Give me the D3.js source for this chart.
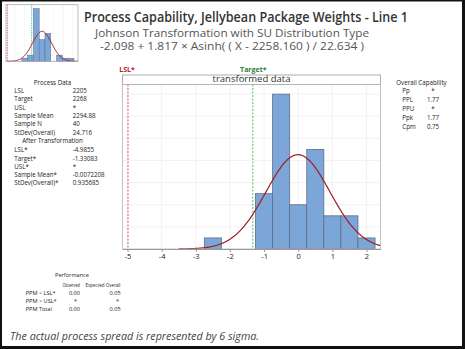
<!DOCTYPE html>
<html><head><meta charset="utf-8">
<script src="https://cdn.jsdelivr.net/npm/d3@7"></script>
<style>
html,body{margin:0;padding:0;background:#fff;}
svg{display:block;font-family:"Open Sans","Noto Sans",sans-serif;}
</style></head>
<body><div id="chart"></div>
<script>
// ---------- data ----------
const transBinStarts = [-2.75, -1.25, -0.75, -0.25, 0.25, 0.75, 1.25, 1.75];
const transCounts    = [1, 5, 14, 4, 9, 3, 3, 1];
const transBinWidth  = 0.5;
const xTicks = [-5, -4, -3, -2, -1, 0, 1, 2];
const yGrid = [0.1, 0.2, 0.3, 0.4, 0.5, 0.6, 0.7];

const origBinStarts = [2242.5, 2257.5, 2272.5, 2287.5, 2302.5, 2317.5, 2332.5, 2347.5, 2362.5];
const origCounts    = [1, 2, 17, 7, 9, 0, 2, 1, 1];
const origBinWidth  = 15;
const origGrid = [2225, 2250, 2275, 2300, 2325, 2350, 2375];

const N = 40;
const LSL = 2205, TARGET = 2268, MEAN = 2294.88, SD = 24.716;
const LSLt = -4.9855, TARGETt = -1.33083, MEANt = -0.0072208, SDt = 0.935685;

const titleText = "Process Capability, Jellybean Package Weights - Line 1";
const subtitle1 = "Johnson Transformation with SU Distribution Type";
const subtitle2 = "-2.098 + 1.817 \u00d7 Asinh( ( X - 2258.160 ) / 22.634 )";
const footerText = "The actual process spread is represented by 6 sigma.";

const processLabels = ["LSL", "Target", "USL", "Sample Mean", "Sample N", "StDev(Overall)"];
const processValues = ["2205", "2268", "*", "2294.88", "40", "24.716"];
const afterLabels = ["LSL*", "Target*", "USL*", "Sample Mean*", "StDev(Overall)*"];
const afterValues = ["-4.9855", "-1.33083", "*", "-0.0072208", "0.935685"];
const capLabels = ["Pp", "PPL", "PPU", "Ppk", "Cpm"];
const capValues = ["*", "1.77", "*", "1.77", "0.75"];
const perfRows = ["PPM < LSL*", "PPM > USL*", "PPM Total"];
const perfObserved = ["0.00", "*", "0.00"];
const perfExpected = ["0.05", "*", "0.05"];

// ---------- setup ----------
const W = 465, H = 349;
const svg = d3.select("#chart").append("svg").attr("width", W).attr("height", H);
svg.append("rect").attr("width", W).attr("height", H).attr("fill", "#fff");

const barFill = "#7DA6D8", barStroke = "#5B6E8C", curveColor = "#A01C22";
const lslColor = "#E0474C", tgtColor = "#3DB85A";
const normPdf = (x, m, s) => Math.exp(-0.5 * ((x - m) / s) ** 2) / (s * Math.sqrt(2 * Math.PI));

// ---------- main plot ----------
const P = {left: 122.5, right: 380.5, top: 84.5, bottom: 249, headTop: 75};
const x = d3.scaleLinear().domain([-5.147, 2.41]).range([P.left, P.right]);
const y = d3.scaleLinear().domain([0, 0.7436]).range([P.bottom, P.top]);

const g = svg.append("g");
// header strip
g.append("rect").attr("x", P.left).attr("y", P.headTop).attr("width", P.right - P.left)
  .attr("height", P.top - P.headTop).attr("fill", "#fff").attr("stroke", "#9a9a9a").attr("stroke-width", 0.8);
g.append("text").attr("x", (P.left + P.right) / 2).attr("y", P.top - 2.2).attr("text-anchor", "middle")
  .attr("font-size", 9.5).attr("fill", "#333").text("transformed data");

// gridlines
g.selectAll(".vg").data(xTicks).join("line").attr("x1", d => x(d)).attr("x2", d => x(d))
  .attr("y1", P.top).attr("y2", P.bottom).attr("stroke", "#efefef").attr("stroke-width", 0.8);
g.selectAll(".hg").data(yGrid).join("line").attr("x1", P.left).attr("x2", P.right)
  .attr("y1", d => y(d)).attr("y2", d => y(d)).attr("stroke", "#efefef").attr("stroke-width", 0.8);

// bars
const tBins = transBinStarts.map((s, i) => ({x0: s, x1: s + transBinWidth, d: transCounts[i] / (N * transBinWidth)}));
g.selectAll(".bar").data(tBins).join("rect")
  .attr("x", d => x(d.x0)).attr("width", d => x(d.x1) - x(d.x0))
  .attr("y", d => y(d.d)).attr("height", d => y(0) - y(d.d))
  .attr("fill", barFill).attr("stroke", barStroke).attr("stroke-width", 0.8);

// spec lines
g.append("line").attr("x1", x(LSLt)).attr("x2", x(LSLt)).attr("y1", P.top).attr("y2", P.bottom)
  .attr("stroke", lslColor).attr("stroke-width", 0.9).attr("stroke-dasharray", "2,1.5");
g.append("line").attr("x1", x(TARGETt)).attr("x2", x(TARGETt)).attr("y1", P.top).attr("y2", P.bottom)
  .attr("stroke", tgtColor).attr("stroke-width", 0.9).attr("stroke-dasharray", "2,1.5");

// normal curve
const cx = d3.range(-3.5, 2.41 + 1e-9, 0.02);
g.append("path").datum(cx).attr("fill", "none").attr("stroke", curveColor).attr("stroke-width", 1.2)
  .attr("d", d3.line().x(d => x(d)).y(d => y(normPdf(d, MEANt, SDt))));

// frame
g.append("rect").attr("x", P.left).attr("y", P.top).attr("width", P.right - P.left).attr("height", P.bottom - P.top)
  .attr("fill", "none").attr("stroke", "#b5b5b5").attr("stroke-width", 0.8);

// x axis
const xAxis = g.append("g").attr("transform", `translate(0,${P.bottom})`)
  .call(d3.axisBottom(x).tickValues(xTicks).tickSize(3).tickSizeOuter(0).tickFormat(d3.format("d")));
xAxis.select(".domain").attr("stroke", "#999");
xAxis.selectAll(".tick line").attr("stroke", "#999");
xAxis.selectAll("text").attr("font-size", 7.5).attr("fill", "#222").attr("dy", "0.85em").attr("y", 3.5)
  .attr("font-family", "'Open Sans',sans-serif").text(d => d < 0 ? "-" + Math.abs(d) : d);

// spec labels above
g.append("text").attr("x", x(LSLt) - 1).attr("y", 71.5).attr("text-anchor", "middle").attr("font-size", 7)
  .attr("font-weight", "bold").attr("fill", "#B0282E").text("LSL*");
g.append("text").attr("x", x(TARGETt) + 0.5).attr("y", 71.5).attr("text-anchor", "middle").attr("font-size", 7)
  .attr("font-weight", "bold").attr("fill", "#2F7D3A").text("Target*");

// ---------- thumbnail ----------
const T = {left: 6, right: 78, top: 4.7, bottom: 61.3};
const tx = d3.scaleLinear().domain([2201.5, 2388]).range([T.left, T.right]);
const ty = d3.scaleLinear().domain([0, 0.03043]).range([T.bottom, T.top]);
const th = svg.append("g");
th.selectAll(".tvg").data(origGrid).join("line").attr("x1", d => tx(d)).attr("x2", d => tx(d))
  .attr("y1", T.top).attr("y2", T.bottom).attr("stroke", "#f0f0f0").attr("stroke-width", 0.6);
const oBins = origBinStarts.map((s, i) => ({x0: s, x1: s + origBinWidth, d: origCounts[i] / (N * origBinWidth)}));
th.selectAll(".tbar").data(oBins.filter(b => b.d > 0)).join("rect")
  .attr("x", d => tx(d.x0)).attr("width", d => tx(d.x1) - tx(d.x0))
  .attr("y", d => ty(d.d)).attr("height", d => ty(0) - ty(d.d))
  .attr("fill", barFill).attr("stroke", barStroke).attr("stroke-width", 0.5);
th.append("line").attr("x1", tx(LSL)).attr("x2", tx(LSL)).attr("y1", T.top).attr("y2", T.bottom)
  .attr("stroke", lslColor).attr("stroke-width", 0.8).attr("stroke-dasharray", "1.5,1");
th.append("line").attr("x1", tx(TARGET)).attr("x2", tx(TARGET)).attr("y1", T.top).attr("y2", T.bottom)
  .attr("stroke", tgtColor).attr("stroke-width", 0.8).attr("stroke-dasharray", "1.5,1");
const ox = d3.range(2205, 2388 + 1e-9, 1);
th.append("path").datum(ox).attr("fill", "none").attr("stroke", curveColor).attr("stroke-width", 1)
  .attr("d", d3.line().x(d => tx(d)).y(d => ty(normPdf(d, MEAN, SD))));
th.append("rect").attr("x", T.left).attr("y", T.top).attr("width", T.right - T.left).attr("height", T.bottom - T.top)
  .attr("fill", "none").attr("stroke", "#aaa").attr("stroke-width", 0.8);

// ---------- titles ----------
svg.append("text").attr("x", 246).attr("y", 21.8).attr("text-anchor", "middle").attr("font-size", 13.5)
  .attr("font-weight", 600).attr("fill", "#333").attr("textLength", 324).attr("lengthAdjust", "spacingAndGlyphs").text(titleText);
svg.append("text").attr("x", 232).attr("y", 36.9).attr("text-anchor", "middle").attr("font-size", 11)
  .attr("fill", "#555").attr("textLength", 274).attr("lengthAdjust", "spacingAndGlyphs").text(subtitle1);
svg.append("text").attr("x", 232).attr("y", 50.4).attr("text-anchor", "middle").attr("font-size", 11)
  .attr("fill", "#555").attr("textLength", 264).attr("lengthAdjust", "spacingAndGlyphs").text(subtitle2);

// ---------- left tables ----------
const fs = 6.2;
const left = svg.append("g").attr("font-size", fs).attr("fill", "#222");
left.append("text").attr("x", 52.5).attr("y", 84.8).attr("text-anchor", "middle").text("Process Data");
processLabels.forEach((l, i) => {
  left.append("text").attr("x", 14.3).attr("y", 92.8 + i * 8.4).text(l);
  left.append("text").attr("x", 72.7).attr("y", 92.8 + i * 8.4).text(processValues[i]);
});
left.append("text").attr("x", 52.5).attr("y", 143.2).attr("text-anchor", "middle").text("After Transformation");
afterLabels.forEach((l, i) => {
  left.append("text").attr("x", 14.3).attr("y", 152.2 + i * 8.3).text(l);
  left.append("text").attr("x", 72.7).attr("y", 152.2 + i * 8.3).text(afterValues[i]);
});

// ---------- right table ----------
const right = svg.append("g").attr("font-size", fs).attr("fill", "#222");
right.append("text").attr("x", 421.5).attr("y", 84.8).attr("text-anchor", "middle").text("Overall Capability");
capLabels.forEach((l, i) => {
  right.append("text").attr("x", 402.3).attr("y", 93.3 + i * 8.9).text(l);
  right.append("text").attr("x", 433).attr("y", 93.3 + i * 8.9).attr("text-anchor", "middle").text(capValues[i]);
});

// ---------- performance ----------
const perf = svg.append("g").attr("font-size", 5.6).attr("fill", "#222");
perf.append("text").attr("x", 72).attr("y", 277).attr("text-anchor", "middle").text("Performance");
perf.append("text").attr("x", 62.5).attr("y", 287).attr("textLength", 17.5).attr("lengthAdjust", "spacingAndGlyphs").text("Observed");
perf.append("text").attr("x", 85.5).attr("y", 287).attr("textLength", 35).attr("lengthAdjust", "spacingAndGlyphs").text("Expected Overall");
perfRows.forEach((r, i) => {
  const yy = 295.3 + i * 7.8;
  perf.append("text").attr("x", 25.7).attr("y", yy).text(r);
  perf.append("text").attr("x", perfObserved[i] === "*" ? 77 : 80).attr("y", yy).attr("text-anchor", "end").text(perfObserved[i]);
  perf.append("text").attr("x", perfExpected[i] === "*" ? 119 : 120.7).attr("y", yy).attr("text-anchor", "end").text(perfExpected[i]);
});

// ---------- footer ----------
svg.append("text").attr("x", 10).attr("y", 339.5).attr("font-size", 10.5).attr("font-style", "italic")
  .attr("fill", "#444").attr("textLength", 249).attr("lengthAdjust", "spacingAndGlyphs").text(footerText);

// ---------- outer frame ----------
svg.append("rect").attr("x", 1).attr("y", 0.5).attr("width", W - 2.5).attr("height", H - 2)
  .attr("fill", "none").attr("stroke", "#111").attr("stroke-width", 2);
svg.append("line").attr("x1", W - 1.5).attr("x2", W - 1.5).attr("y1", 0).attr("y2", H).attr("stroke", "#111").attr("stroke-width", 3);
svg.append("line").attr("x1", 0).attr("x2", W).attr("y1", H - 1.5).attr("y2", H - 1.5).attr("stroke", "#111").attr("stroke-width", 3);
</script></body></html>
